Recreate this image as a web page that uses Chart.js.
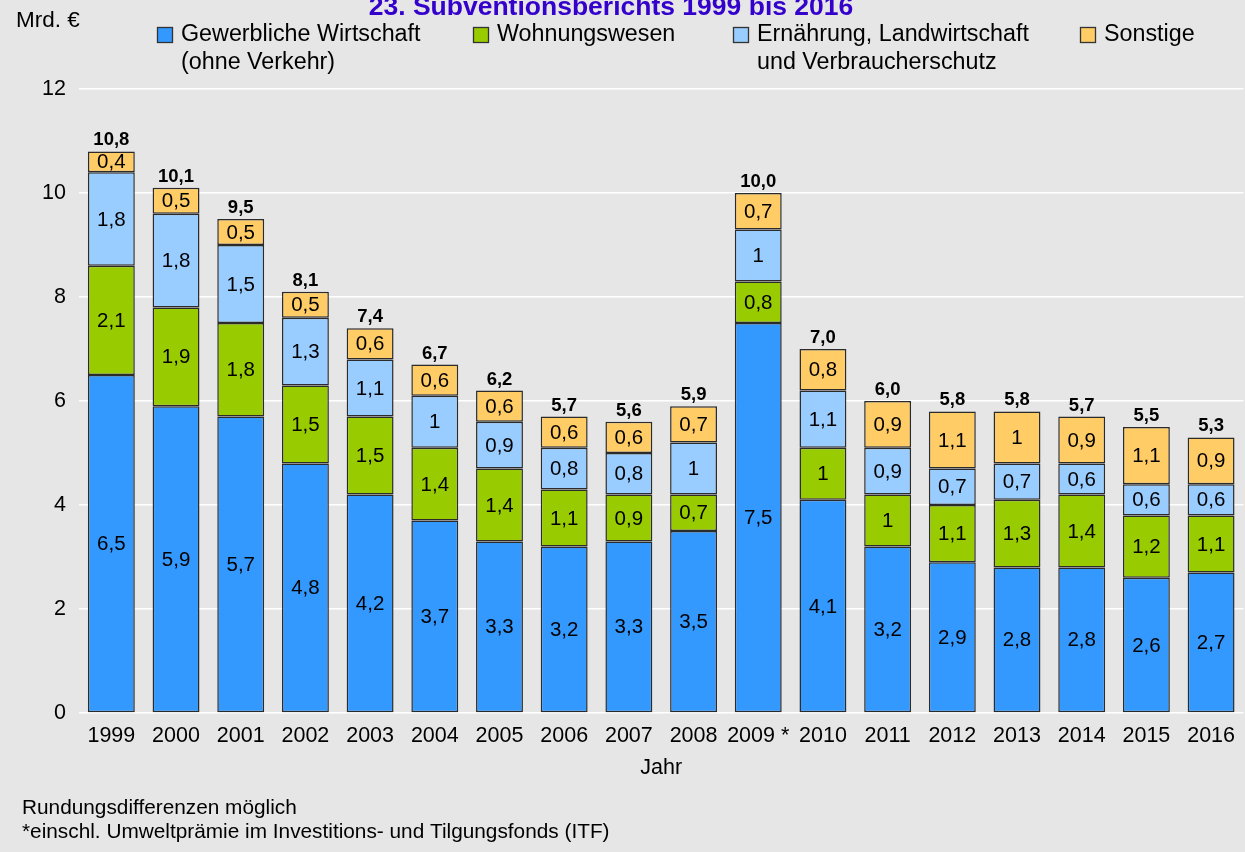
<!DOCTYPE html>
<html>
<head>
<meta charset="utf-8">
<script src="https://cdn.jsdelivr.net/npm/chart.js@4.4.1/dist/chart.umd.min.js"></script>
<style>
html,body{margin:0;padding:0;background:#E6E6E6;}
#wrap{width:1245px;height:852px;position:relative;}
</style>
</head>
<body>
<div id="wrap"><canvas id="c" width="1245" height="852"></canvas></div>
<script>
const years = ["1999","2000","2001","2002","2003","2004","2005","2006","2007","2008","2009 *","2010","2011","2012","2013","2014","2015","2016"];
const gewerbe = [6.5,5.9,5.7,4.8,4.2,3.7,3.3,3.2,3.3,3.5,7.5,4.1,3.2,2.9,2.8,2.8,2.6,2.7];
const wohnung = [2.1,1.9,1.8,1.5,1.5,1.4,1.4,1.1,0.9,0.7,0.8,1,1,1.1,1.3,1.4,1.2,1.1];
const ernaehrung = [1.8,1.8,1.5,1.3,1.1,1,0.9,0.8,0.8,1,1,1.1,0.9,0.7,0.7,0.6,0.6,0.6];
const sonstige = [0.4,0.5,0.5,0.5,0.6,0.6,0.6,0.6,0.6,0.7,0.7,0.8,0.9,1.1,1,0.9,1.1,0.9];
const totals = [10.8,10.1,9.5,8.1,7.4,6.7,6.2,5.7,5.6,5.9,10.0,7.0,6.0,5.8,5.8,5.7,5.5,5.3];
const seriesNames = [["Gewerbliche Wirtschaft","(ohne Verkehr)"],["Wohnungswesen"],["Ernährung, Landwirtschaft","und Verbraucherschutz"],["Sonstige"]];
const yTicks = [0,2,4,6,8,10,12];

const COLORS = ["#3399FF","#99CC00","#99CCFF","#FFCC66"];
const FONT = "'Liberation Sans', Arial, sans-serif";

function fmtSeg(v){ return Number.isInteger(v) ? String(v) : v.toFixed(1).replace('.', ','); }
function fmtTot(v){ return v.toFixed(1).replace('.', ','); }

const bgPlugin = {
  id:'bg',
  beforeDraw(chart){
    const ctx = chart.ctx;
    ctx.save();
    ctx.fillStyle = '#E6E6E6';
    ctx.fillRect(0,0,chart.width,chart.height);
    ctx.restore();
  }
};

const labelPlugin = {
  id:'labels',
  afterDatasetsDraw(chart){
    const ctx = chart.ctx;
    ctx.save();
    ctx.fillStyle = '#000';
    ctx.textAlign = 'center';
    ctx.textBaseline = 'middle';
    ctx.font = "20.5px " + FONT;
    chart.data.datasets.forEach((ds, i) => {
      const meta = chart.getDatasetMeta(i);
      meta.data.forEach((bar, j) => {
        const v = ds.data[j];
        ctx.fillText(fmtSeg(v), bar.x, (bar.y + bar.base) / 2 + 1);
      });
    });
    const last = chart.getDatasetMeta(chart.data.datasets.length - 1);
    ctx.font = "bold 18.5px " + FONT;
    ctx.textBaseline = 'alphabetic';
    last.data.forEach((bar, j) => {
      ctx.fillText(fmtTot(totals[j]), bar.x, bar.y - 6);
    });
    ctx.restore();
  }
};

const decoPlugin = {
  id:'deco',
  afterDraw(chart){
    const ctx = chart.ctx;
    ctx.save();
    // Title (cut off at top)
    ctx.fillStyle = '#3300CC';
    ctx.font = "bold 26.5px " + FONT;
    ctx.textAlign = 'center';
    ctx.textBaseline = 'alphabetic';
    ctx.fillText("23. Subventionsberichts 1999 bis 2016", 611, 15);
    // unit
    ctx.fillStyle = '#000';
    ctx.textAlign = 'left';
    ctx.font = "22.5px " + FONT;
    ctx.fillText("Mrd. €", 16, 27);
    // legend
    const boxX = [157, 473, 733, 1080];
    ctx.font = "23.3px " + FONT;
    ctx.textBaseline = 'middle';
    seriesNames.forEach((lines, i) => {
      ctx.fillStyle = COLORS[i];
      ctx.fillRect(boxX[i], 27, 16, 16);
      ctx.strokeStyle = '#333';
      ctx.lineWidth = 1.3;
      ctx.strokeRect(boxX[i] + 0.5, 27.5, 15, 15);
      ctx.fillStyle = '#000';
      lines.forEach((t, k) => ctx.fillText(t, boxX[i] + 24, 35 + k * 28));
    });
    // x axis title
    ctx.textAlign = 'center';
    ctx.font = "21.5px " + FONT;
    const a = chart.chartArea;
    ctx.fillText("Jahr", (a.left + a.right) / 2, 768);
    // footer
    ctx.textAlign = 'left';
    ctx.font = "20.8px " + FONT;
    ctx.fillText("Rundungsdifferenzen möglich", 22, 808);
    ctx.fillText("*einschl. Umweltprämie im Investitions- und Tilgungsfonds (ITF)", 22, 832);
    ctx.restore();
  }
};

new Chart(document.getElementById('c'), {
  type:'bar',
  data:{
    labels: years,
    datasets:[
      {label:seriesNames[0].join(' '), data:gewerbe, backgroundColor:COLORS[0]},
      {label:seriesNames[1].join(' '), data:wohnung, backgroundColor:COLORS[1]},
      {label:seriesNames[2].join(' '), data:ernaehrung, backgroundColor:COLORS[2]},
      {label:seriesNames[3].join(' '), data:sonstige, backgroundColor:COLORS[3]}
    ].map(d => Object.assign(d, {borderColor:'#2b2b2b', borderWidth:1.5, borderSkipped:false, categoryPercentage:1, barPercentage:0.725}))
  },
  options:{
    responsive:false,
    animation:false,
    devicePixelRatio:1,
    layout:{padding:{top:89, left:0, right:0, bottom:0}},
    plugins:{legend:{display:false}, tooltip:{enabled:false}, title:{display:false}},
    scales:{
      x:{
        stacked:true,
        grid:{display:false, drawTicks:false},
        border:{display:false},
        ticks:{color:'#000', font:{family:FONT, size:21.5}, padding:10, maxRotation:0, autoSkip:false},
        afterFit(s){ s.height = 852 - 713; }
      },
      y:{
        stacked:true,
        min:0, max:12,
        afterBuildTicks(s){ s.ticks = yTicks.map(v => ({value:v})); },
        grid:{color:'#FFFFFF', lineWidth:1.5, drawTicks:false},
        border:{display:false},
        ticks:{color:'#000', font:{family:FONT, size:21.5}, padding:13},
        afterFit(s){ s.width = 79; }
      }
    }
  },
  plugins:[bgPlugin, labelPlugin, decoPlugin]
});
</script>
</body>
</html>
